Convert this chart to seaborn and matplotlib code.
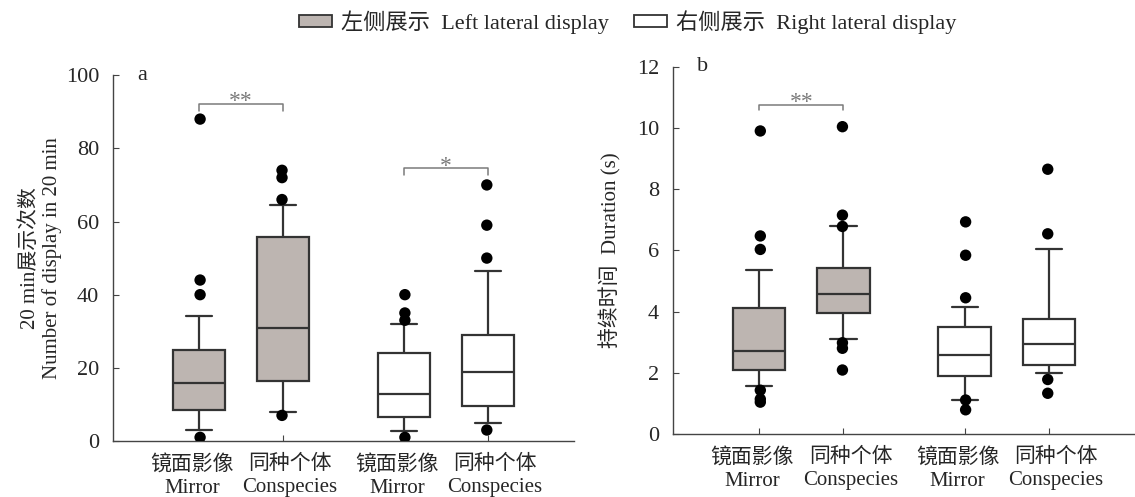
import numpy as np
import pandas as pd
import matplotlib.pyplot as plt
import matplotlib.transforms as mtransforms
import seaborn as sns
from matplotlib.patches import Patch

# categories
sides = ['Left', 'Right']
targets = ['Mirror', 'Conspecies']
tick_labels = ['镜面影像\nMirror', '同种个体\nConspecies', '镜面影像\nMirror', '同种个体\nConspecies']
legend_labels = ['左侧展示  Left lateral display', '右侧展示  Right lateral display']

# box summaries: [10th pct, Q1, median, Q3, 90th pct]
# order: Left-Mirror, Left-Conspecies, Right-Mirror, Right-Conspecies
count_box = [[2.9, 8.4, 15.9, 24.9, 34.2],
             [7.8, 16.4, 31.0, 55.9, 64.4],
             [2.6, 6.5, 12.9, 24.0, 32.1],
             [5.0, 9.5, 18.8, 29.0, 46.6]]
count_out = [[88, 44, 40, 1],
             [74, 72, 66, 7],
             [40, 35, 33, 1],
             [70, 59, 50, 3]]

dur_box = [[1.57, 2.10, 2.70, 4.12, 5.35],
           [3.09, 3.94, 4.58, 5.41, 6.78],
           [1.11, 1.91, 2.58, 3.49, 4.16],
           [1.99, 2.24, 2.94, 3.76, 6.05]]
dur_out = [[9.90, 6.47, 6.03, 1.43, 1.14, 1.04],
           [10.04, 7.15, 6.78, 2.98, 2.80, 2.09],
           [6.93, 5.84, 4.45, 1.11, 0.79],
           [8.65, 6.54, 1.78, 1.33]]

# significance brackets: (side index, bracket level, leg end, label)
count_sig = [(0, 92.2, 90.3, '**'), (1, 74.5, 72.7, '*')]
dur_sig = [(0, 10.76, 10.58, '**')]

grey = '#BDB5B1'
edge = '#333333'
side_colors = {'Left': grey, 'Right': 'white'}


def to_long(values):
    rows = []
    for i, vals in enumerate(values):
        side = sides[i // 2]
        target = targets[i % 2]
        for v in vals:
            rows.append({'side': side, 'target': target, 'value': v})
    return pd.DataFrame(rows)


sns.set_style('ticks')
plt.rcParams['font.family'] = ['Liberation Serif', 'Noto Sans CJK SC']
plt.rcParams['axes.unicode_minus'] = False

fig = plt.figure(figsize=(11.35, 4.97), dpi=100)
ax1 = fig.add_axes([0.0996, 0.1127, 0.406, 0.736])
ax2 = fig.add_axes([0.593, 0.1268, 0.407, 0.739])

box_width = 0.82
offset = box_width / 4


def draw_panel(ax, box_vals, out_vals, sig, ymax, ystep, ylabel, letter, labelpad):
    box_df = to_long(box_vals)
    out_df = to_long(out_vals)
    for side in sides:
        sub = box_df[box_df['side'] == side]
        sns.boxplot(data=sub, x='side', y='value', hue='target', order=sides, hue_order=targets,
                    palette={t: side_colors[side] for t in targets}, whis=(0, 100),
                    width=box_width, gap=0.38, saturation=1, linecolor=edge, linewidth=1.6,
                    dodge=True, legend=False, ax=ax)
    sns.stripplot(data=out_df, x='side', y='value', hue='target', order=sides, hue_order=targets,
                  palette={t: 'black' for t in targets}, jitter=False, dodge=True, size=8.2,
                  linewidth=0, legend=False, zorder=3, ax=ax)

    for side_i, level, leg, label in sig:
        x1, x2 = side_i - offset, side_i + offset
        ax.plot([x1, x1, x2, x2], [leg, level, level, leg], color='#7a7a7a', lw=1.1)
        ax.text((x1 + x2) / 2, level - ymax * 0.022, label, ha='center', va='bottom',
                color='#7a7a7a', fontsize=17)

    ticks = [i + d for i in range(len(sides)) for d in (-offset, offset)]
    ax.set_xticks(ticks)
    ax.set_xticklabels(tick_labels, fontsize=15, linespacing=1.3)
    ax.set_xlim(-0.625, 1.625)
    ax.set_ylim(0, ymax)
    ax.set_yticks(np.arange(0, ymax + ystep / 2, ystep))
    ax.tick_params(axis='y', labelsize=16, direction='in', length=4, color='#444444', pad=10)
    ax.tick_params(axis='x', direction='in', length=4, color='#444444', pad=10)
    # labels sit slightly apart from their tick marks in the original
    for j, lab in enumerate(ax.get_xticklabels()):
        dx = -0.07 if j % 2 == 0 else 0.07
        lab.set_transform(lab.get_transform() +
                          mtransforms.ScaledTranslation(dx, 0, fig.dpi_scale_trans))
    ax.set_xlabel('')
    ax.set_ylabel(ylabel, fontsize=15, linespacing=1.15, labelpad=labelpad)
    for s in ['top', 'right']:
        ax.spines[s].set_visible(False)
    for s in ['left', 'bottom']:
        ax.spines[s].set_color('#444444')
        ax.spines[s].set_linewidth(1.0)
    ax.text(0.052, 1.0, letter, transform=ax.transAxes, fontsize=16, va='center', ha='left')


draw_panel(ax1, count_box, count_out, count_sig, 100, 20,
           '20 min展示次数\nNumber of display in 20 min', 'a', 2.4)
draw_panel(ax2, dur_box, dur_out, dur_sig, 12, 2, '持续时间  Duration (s)', 'b', 11)

handles = [Patch(facecolor=side_colors[s], edgecolor=edge, linewidth=1.3) for s in sides]
fig.legend(handles, legend_labels, loc='upper center', bbox_to_anchor=(0.553, 1.02), ncol=2,
           frameon=False, fontsize=16, handlelength=1.5, handleheight=0.5, columnspacing=1.1,
           handletextpad=0.4)

fig.savefig('out.png', dpi=100)
